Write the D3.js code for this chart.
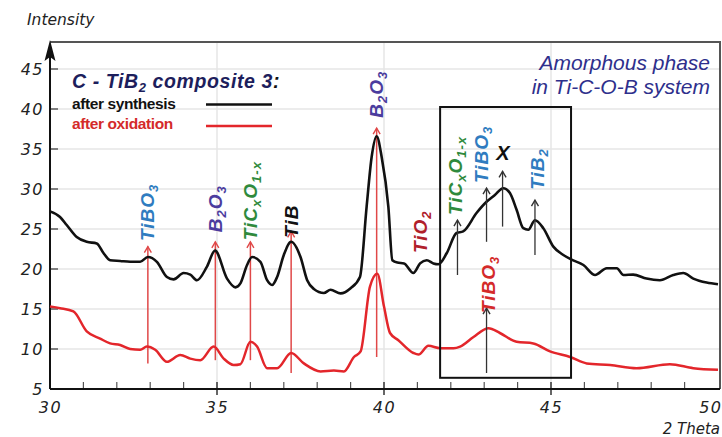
<!DOCTYPE html>
<html><head><meta charset="utf-8">
<script src="https://cdn.jsdelivr.net/npm/d3@7"></script>
<style>body{margin:0;background:#fff}svg{display:block}</style>
</head><body><svg id="c" width="722" height="437"></svg>
<script>
// ---------- data ----------
const xTicks = [30, 35, 40, 45, 50];
const xMinorTicks = [31,32,33,34,36,37,38,39,41,42,43,44,46,47,48,49];
const yTicks = [5, 10, 15, 20, 25, 30, 35, 40, 45];
const seriesNames = ["after synthesis", "after oxidation"];

const blackTheta = [30.0,30.3,30.5,30.8,31.1,31.4,31.6,31.8,32.1,32.4,32.7,32.93,33.2,33.5,33.7,34.0,34.2,34.4,34.7,34.94,35.3,35.55,35.7,35.9,36.05,36.3,36.5,36.65,36.8,37.0,37.22,37.5,37.7,37.9,38.2,38.4,38.7,39.0,39.28,39.48,39.63,39.78,39.93,40.13,40.25,40.4,40.6,40.88,41.08,41.28,41.48,41.63,41.88,42.17,42.37,42.77,43.07,43.32,43.57,43.77,43.97,44.17,44.32,44.52,44.77,45.07,45.37,45.6,45.97,46.32,46.67,46.97,47.17,47.46,47.86,48.26,48.66,48.96,49.26,49.66,50.0];
const blackIntensity = [27.2,26.5,25.5,24.0,23.4,23.2,22.0,21.1,21.0,20.9,20.9,21.5,20.9,19.0,18.7,19.5,19.3,18.6,20.3,22.3,18.8,17.7,18.2,20.5,21.5,20.9,18.6,18.0,19.0,21.75,23.4,21.5,18.6,17.5,17.0,17.4,16.95,17.6,19.0,27.8,34.0,36.6,34.0,27.8,21.1,20.8,20.7,19.5,20.7,21.1,20.7,20.6,22.0,24.5,24.7,27.0,28.4,29.25,30.1,29.5,27.4,25.1,24.9,26.1,25.1,22.8,21.75,21.2,20.5,19.25,20.1,20.1,19.25,19.3,18.8,18.6,19.25,19.5,18.8,18.3,18.1];

const redTheta = [30.0,30.3,30.7,31.1,31.5,31.8,32.1,32.4,32.7,32.9,33.15,33.5,33.9,34.2,34.5,34.9,35.2,35.5,35.7,36.0,36.2,36.5,36.8,37.22,37.6,38.1,38.5,38.8,39.1,39.3,39.58,39.8,40.0,40.18,40.43,40.88,41.03,41.33,41.68,42.08,42.28,42.68,43.13,43.47,43.97,44.47,44.97,45.57,46.07,46.77,47.56,48.56,49.26,50.0];
const redIntensity = [15.3,15.1,14.7,12.2,11.3,10.7,10.5,10.0,9.9,10.3,9.9,8.4,9.25,8.8,8.6,10.3,8.8,8.0,8.1,10.9,10.3,7.6,7.6,9.5,8.2,7.2,7.3,7.2,9.0,9.7,17.8,19.4,15.3,12.0,11.1,9.5,9.3,10.4,10.1,10.1,10.3,11.5,12.6,12.0,10.9,10.7,9.7,9.0,8.2,8.0,7.6,8.1,7.6,7.4];

// annotation arrows (theta, from intensity, to intensity)
const redArrowTheta = [32.93, 34.95, 36.0, 37.22, 39.78];
const redArrowFrom  = [8.2, 8.6, 8.6, 7.0, 9.0];
const redArrowTo    = [22.8, 23.4, 23.4, 24.7, 37.6];
const darkArrowTheta = [42.2, 43.07, 43.55, 44.52, 43.07];
const darkArrowFrom  = [19.25, 23.4, 25.3, 21.75, 7.0];
const darkArrowTo    = [26.1, 30.1, 32.2, 28.6, 15.1];

// peak labels: text parts [string, isSubscript], theta, intensity at label start, colour
const BLUE = "#2f7cc0", PURPLE = "#4b3c9e", GREEN = "#2f8a3c", DKRED = "#b0202a", RED = "#d42a2a";
const peakLabels = [
  {parts: [["TiBO",0],["3",1]], theta: 32.93, at: 23.5, color: BLUE},
  {parts: [["B",0],["2",1],["O",0],["3",1]], theta: 34.95, at: 24.6, color: PURPLE},
  {parts: [["TiC",0],["x",1],["O",0],["1-x",1]], theta: 36.0, at: 23.6, color: GREEN},
  {parts: [["TiB",0]], theta: 37.22, at: 23.9, color: "#111"},
  {parts: [["B",0],["2",1],["O",0],["3",1]], theta: 39.78, at: 38.9, color: PURPLE},
  {parts: [["TiO",0],["2",1]], theta: 41.08, at: 22.0, color: DKRED},
  {parts: [["TiC",0],["x",1],["O",0],["1-x",1]], theta: 42.13, at: 26.75, color: GREEN},
  {parts: [["TiBO",0],["3",1]], theta: 42.93, at: 30.75, color: BLUE},
  {parts: [["TiB",0],["2",1]], theta: 44.61, at: 29.9, color: BLUE},
  {parts: [["TiBO",0],["3",1]], theta: 43.14, at: 14.5, color: RED}
];
const xLabel = {text: "X", theta: 43.56, at: 33.6};
const box = {t0: 41.68, t1: 45.6, i0: 6.4, i1: 40.25};

// ---------- drawing ----------
const svg = d3.select("#c");
const x = d3.scaleLinear().domain([30, 50]).range([50, 718]);
const y = d3.scaleLinear().domain([5, 45]).range([389, 69]);
const TOP = 42, RIGHT = 720;
const AX = "'DejaVu Sans', sans-serif";
const LB = "'Liberation Sans', Arial, sans-serif";

// gridlines
svg.append("g").selectAll("line").data(yTicks.slice(1)).join("line")
  .attr("x1", 50).attr("x2", RIGHT).attr("y1", d => y(d)).attr("y2", d => y(d))
  .attr("stroke", "#e6e6e6").attr("stroke-width", 1.5);
svg.append("g").selectAll("line").data(xTicks.slice(1, -1)).join("line")
  .attr("x1", d => x(d)).attr("x2", d => x(d)).attr("y1", TOP).attr("y2", 389)
  .attr("stroke", "#e6e6e6").attr("stroke-width", 1.5);

// frame top/right
svg.append("path").attr("d", `M50,${TOP}H${RIGHT}V389`).attr("fill", "none")
  .attr("stroke", "#555").attr("stroke-width", 2);

// axes
const xAxis = d3.axisBottom(x).tickValues(xTicks).tickSize(0).tickPadding(12)
  .tickFormat(d3.format("d"));
const gx = svg.append("g").attr("transform", "translate(0,389)").call(xAxis);
gx.select(".domain").remove();
gx.selectAll("text").attr("font-family", AX).attr("font-style", "italic")
  .attr("font-size", 16).attr("letter-spacing", 1.5).attr("fill", "#222").attr("dy", "0.75em");
// keep the last tick label inside the window
gx.selectAll("text").filter(d => d === 50).attr("text-anchor", "end").attr("x", 4);
svg.append("g").selectAll("line").data(xMinorTicks).join("line")
  .attr("x1", d => x(d)).attr("x2", d => x(d)).attr("y1", 382).attr("y2", 389)
  .attr("stroke", "#555").attr("stroke-width", 1.2);
svg.append("g").selectAll("line").data(xTicks.slice(1, -1)).join("line")
  .attr("x1", d => x(d)).attr("x2", d => x(d)).attr("y1", 382).attr("y2", 395)
  .attr("stroke", "#333").attr("stroke-width", 1.5);

const yAxis = d3.axisLeft(y).tickValues(yTicks).tickSize(0).tickPadding(6);
const gy = svg.append("g").attr("transform", "translate(50,0)").call(yAxis);
gy.select(".domain").remove();
gy.selectAll("text").attr("font-family", AX).attr("font-style", "italic")
  .attr("font-size", 16).attr("letter-spacing", 1.5).attr("fill", "#222");
svg.append("g").selectAll("line").data(yTicks.slice(1)).join("line")
  .attr("x1", 50).attr("x2", 58).attr("y1", d => y(d)).attr("y2", d => y(d))
  .attr("stroke", "#444").attr("stroke-width", 1.3);

svg.append("line").attr("x1", 50).attr("x2", RIGHT).attr("y1", 389).attr("y2", 389)
  .attr("stroke", "#111").attr("stroke-width", 2);
svg.append("line").attr("x1", 50).attr("x2", 50).attr("y1", 389).attr("y2", 50)
  .attr("stroke", "#111").attr("stroke-width", 2);
svg.append("path").attr("d", "M50,40 L55.5,61 L50,57 L44.5,61 Z").attr("fill", "#111");

svg.append("text").attr("x", 27).attr("y", 25).text("Intensity")
  .attr("font-family", AX).attr("font-style", "italic").attr("font-size", 15.5).attr("fill", "#222");
svg.append("text").attr("x", 720).attr("y", 434).attr("text-anchor", "end").text("2 Theta")
  .attr("font-family", AX).attr("font-style", "italic").attr("font-size", 15).attr("fill", "#222");

// markers
const defs = svg.append("defs");
function marker(id, color) {
  defs.append("marker").attr("id", id).attr("viewBox", "-8 -5 10 10")
    .attr("refX", 0).attr("refY", 0).attr("markerWidth", 10).attr("markerHeight", 10)
    .attr("markerUnits", "userSpaceOnUse").attr("orient", "auto")
    .append("path").attr("d", "M-6,-3.5 L0,0 L-6,3.5").attr("fill", "none")
    .attr("stroke", color).attr("stroke-width", 1.4);
}
marker("mr", "#e04848");
marker("mk", "#333");

// curves
const line = d3.line().x(d => x(d[0])).y(d => y(d[1])).curve(d3.curveMonotoneX);
const redData = d3.zip(redTheta, redIntensity);
const blackData = d3.zip(blackTheta, blackIntensity);

svg.append("g").selectAll("line").data(d3.range(redArrowTheta.length)).join("line")
  .attr("x1", i => x(redArrowTheta[i])).attr("x2", i => x(redArrowTheta[i]))
  .attr("y1", i => y(redArrowFrom[i])).attr("y2", i => y(redArrowTo[i]))
  .attr("stroke", "#e04848").attr("stroke-width", 1.5).attr("marker-end", "url(#mr)");

svg.append("path").datum(redData).attr("d", line).attr("fill", "none")
  .attr("stroke", "#e3262b").attr("stroke-width", 2.5).attr("stroke-linejoin", "round");
svg.append("path").datum(blackData).attr("d", line).attr("fill", "none")
  .attr("stroke", "#111").attr("stroke-width", 2.6).attr("stroke-linejoin", "round");

svg.append("g").selectAll("line").data(d3.range(darkArrowTheta.length)).join("line")
  .attr("x1", i => x(darkArrowTheta[i])).attr("x2", i => x(darkArrowTheta[i]))
  .attr("y1", i => y(darkArrowFrom[i])).attr("y2", i => y(darkArrowTo[i]))
  .attr("stroke", "#333").attr("stroke-width", 1.3).attr("marker-end", "url(#mk)");

// box
svg.append("rect").attr("x", x(box.t0)).attr("y", y(box.i1))
  .attr("width", x(box.t1) - x(box.t0)).attr("height", y(box.i0) - y(box.i1))
  .attr("fill", "none").attr("stroke", "#111").attr("stroke-width", 2);

// peak labels
peakLabels.forEach(l => {
  const t = svg.append("text")
    .attr("transform", `translate(${x(l.theta) + 6.5},${y(l.at)}) rotate(-90)`)
    .attr("font-family", LB).attr("font-weight", "bold").attr("font-style", "italic")
    .attr("font-size", 19).attr("letter-spacing", 1).attr("fill", l.color);
  let sub = false;
  l.parts.forEach(p => {
    const ts = t.append("tspan").text(p[0]);
    if (p[1]) { ts.attr("font-size", 13).attr("dy", sub ? 0 : 4); sub = true; }
    else { if (sub) ts.attr("dy", -4); sub = false; }
  });
});
svg.append("text").attr("x", x(xLabel.theta)).attr("y", y(xLabel.at)).attr("text-anchor", "middle")
  .text(xLabel.text).attr("font-family", LB).attr("font-weight", "bold").attr("font-style", "italic")
  .attr("font-size", 20).attr("fill", "#111");

// legend
const title = svg.append("text").attr("x", 72).attr("y", 88)
  .attr("font-family", LB).attr("font-weight", "bold").attr("font-style", "italic")
  .attr("font-size", 19.5).attr("letter-spacing", 0.6).attr("fill", "#1d1e5c");
title.append("tspan").text("C - TiB");
title.append("tspan").text("2").attr("font-size", 13).attr("dy", 4);
title.append("tspan").text(" composite 3").attr("dy", -4);
title.append("tspan").text(":").attr("fill", "#111");

const legColors = ["#111", "#d42a2a"];
seriesNames.forEach((n, i) => {
  svg.append("text").attr("x", 72).attr("y", 109 + i * 20).text(n)
    .attr("font-family", LB).attr("font-weight", "bold").attr("font-size", 15.5)
    .attr("letter-spacing", -0.4).attr("fill", legColors[i]);
  svg.append("line").attr("x1", 206).attr("x2", 272).attr("y1", 104.5 + i * 21.5).attr("y2", 104.5 + i * 21.5)
    .attr("stroke", i ? "#e3262b" : "#111").attr("stroke-width", 2.5);
});

// amorphous note
["Amorphous phase", "in Ti-C-O-B system"].forEach((s, i) => {
  svg.append("text").attr("x", 710).attr("y", 70 + i * 24).attr("text-anchor", "end").text(s)
    .attr("font-family", LB).attr("font-style", "italic").attr("font-size", 21)
    .attr("fill", "#2e2f8c");
});
</script></body></html>
